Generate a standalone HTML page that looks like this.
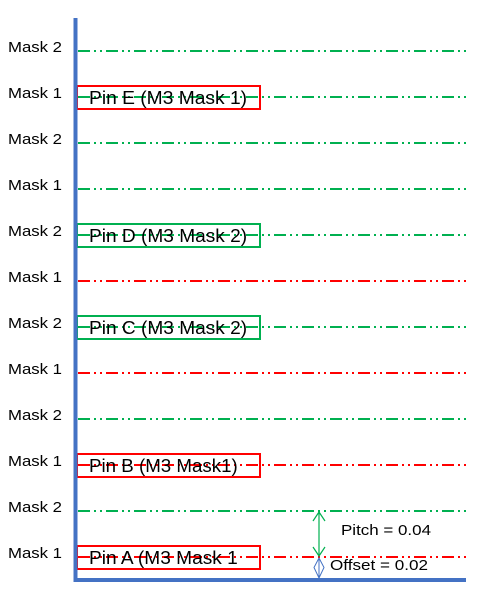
<!DOCTYPE html>
<html><head><meta charset="utf-8"><style>
html,body{margin:0;padding:0;background:#fff;}
svg{display:block;font-family:"Liberation Sans",sans-serif;}
</style></head><body>
<svg id="chart" width="481" height="598" viewBox="0 0 481 598" xmlns="http://www.w3.org/2000/svg"></svg>
<script>
const trackLabels = ["Mask 1","Mask 2","Mask 1","Mask 2","Mask 1","Mask 2","Mask 1","Mask 2","Mask 1","Mask 2","Mask 1","Mask 2"];
const trackColors = ["red","green","red","green","red","green","red","green","green","green","green","green"];
const pinNames = ["Pin A (M3 Mask 1","Pin B (M3 Mask1)","Pin C (M3 Mask 2)","Pin D (M3 Mask 2)","Pin E (M3 Mask 1)"];
const pinTracks = [0,2,5,7,10];
const pinColors = ["red","red","green","green","red"];
const pitch = 0.04, offset = 0.02;

const NS="http://www.w3.org/2000/svg";
const svg=document.getElementById('chart');
const y0=580, scale=46/0.04;
const yPos=i=>y0-(offset+i*pitch)*scale;
const col={red:"#ff0000",green:"#00b050"};
function mk(t,a){const e=document.createElementNS(NS,t);for(const k in a)e.setAttribute(k,a[k]);svg.appendChild(e);return e;}

trackLabels.forEach((lab,i)=>{
  const y=yPos(i);
  const l=mk('line',{x1:78,x2:466,y1:y,y2:y,stroke:col[trackColors[i]],'stroke-width':2,'stroke-dasharray':'12 4 2 4 2 4'});
  
  
  const t=mk('text',{x:8,y:y+1,'font-size':15,fill:'#000',textLength:54,lengthAdjust:'spacingAndGlyphs'});
  t.textContent=lab;
  
  
});
pinNames.forEach((n,i)=>{
  const y=yPos(pinTracks[i]);
  const r=mk('rect',{x:77,y:y-11,width:183,height:23,fill:'none',stroke:col[pinColors[i]],'stroke-width':2});
  
  
  const t=mk('text',{x:89,y:y+7,'font-size':18,fill:'#000',textLength:n.length*9.3,lengthAdjust:'spacingAndGlyphs'});
  t.textContent=n;
  
  
});
const ya=mk('line',{x1:75.5,x2:75.5,y1:18,y2:582,stroke:'#4472c4','stroke-width':4});


const xa=mk('line',{x1:74,x2:466,y1:580,y2:580,stroke:'#4472c4','stroke-width':4});


const p1=yPos(1),p0=yPos(0);
const pa=mk('path',{d:`M319 ${p1+1}V${p0-1}M313 ${p1+10}L319 ${p1+1}L325 ${p1+10}M313 ${p0-10}L319 ${p0-1}L325 ${p0-10}`,stroke:'#00b050','stroke-width':1.2,fill:'none'});


const oa=mk('path',{d:`M319 ${p0+1}L314 ${(p0+578)/2}L319 578L324 ${(p0+578)/2}ZM319 ${p0+1}V578`,stroke:'#4472c4','stroke-width':1,fill:'none'});


const pt=mk('text',{x:341,y:535,'font-size':15,fill:'#000',textLength:90,lengthAdjust:'spacingAndGlyphs'});pt.textContent='Pitch = '+pitch.toFixed(2);


const ot=mk('text',{x:330,y:570,'font-size':15,fill:'#000',textLength:98,lengthAdjust:'spacingAndGlyphs'});ot.textContent='Offset = '+offset.toFixed(2);


</script>
</body></html>
